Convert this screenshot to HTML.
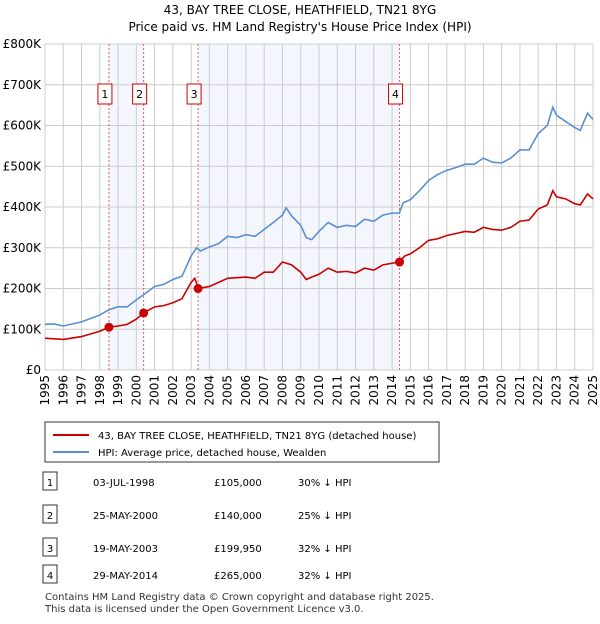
<!DOCTYPE html>
<html><head><meta charset="utf-8"><style>
body{margin:0;background:#fff;font-family:"DejaVu Sans",sans-serif;}
svg text{font-family:"DejaVu Sans",sans-serif;}
</style></head><body>
<svg width="600" height="620">
<text x="300" y="14" text-anchor="middle" font-size="12">43, BAY TREE CLOSE, HEATHFIELD, TN21 8YG</text>
<text x="300" y="31" text-anchor="middle" font-size="12">Price paid vs. HM Land Registry's House Price Index (HPI)</text>
<g id="plot"></g>
<g>
<rect x="45" y="422" width="394" height="40" fill="#fff" stroke="#333"/>
<line x1="53" y1="435" x2="89" y2="435" stroke="#cc0000" stroke-width="2"/>
<text x="98" y="439" font-size="10">43, BAY TREE CLOSE, HEATHFIELD, TN21 8YG (detached house)</text>
<line x1="53" y1="452" x2="89" y2="452" stroke="#5b8fd0" stroke-width="2"/>
<text x="98" y="456" font-size="10">HPI: Average price, detached house, Wealden</text>
</g>
<g id="table" font-size="10"></g>
<text x="45" y="600" font-size="10" fill="#333">Contains HM Land Registry data © Crown copyright and database right 2025.</text>
<text x="45" y="612" font-size="10" fill="#333">This data is licensed under the Open Government Licence v3.0.</text>
</svg>
<script>
const ns="http://www.w3.org/2000/svg";
const yTicks=[0,100,200,300,400,500,600,700,800];
const yLabels=["£0","£100K","£200K","£300K","£400K","£500K","£600K","£700K","£800K"];
const years=[1995,1996,1997,1998,1999,2000,2001,2002,2003,2004,2005,2006,2007,2008,2009,2010,2011,2012,2013,2014,2015,2016,2017,2018,2019,2020,2021,2022,2023,2024,2025];
const hpiT=[1995,1995.5,1996,1997,1998,1998.5,1999,1999.5,2000,2000.5,2001,2001.5,2002,2002.5,2003,2003.3,2003.5,2004,2004.5,2005,2005.5,2006,2006.5,2007,2007.5,2008,2008.2,2008.5,2009,2009.3,2009.6,2010,2010.5,2011,2011.5,2012,2012.5,2013,2013.5,2014,2014.4,2014.6,2015,2015.5,2016,2016.5,2017,2017.5,2018,2018.5,2019,2019.5,2020,2020.5,2021,2021.5,2022,2022.5,2022.8,2023,2023.5,2024,2024.3,2024.7,2025];
const hpiV=[112,113,108,118,135,148,155,155,172,188,205,210,222,230,280,300,292,302,310,328,325,332,328,345,362,380,398,378,355,325,320,340,362,350,355,352,370,365,380,385,385,410,418,440,465,480,490,497,505,505,520,510,508,520,540,540,580,600,645,625,610,595,588,630,615];
const priceT=[1995,1996,1997,1998,1998.5,1999,1999.5,2000,2000.4,2001,2001.5,2002,2002.5,2003,2003.2,2003.4,2004,2005,2006,2006.5,2007,2007.5,2008,2008.5,2009,2009.3,2009.6,2010,2010.5,2011,2011.5,2012,2012.5,2013,2013.5,2014,2014.4,2014.7,2015,2015.5,2016,2016.5,2017,2017.5,2018,2018.5,2019,2019.5,2020,2020.5,2021,2021.5,2022,2022.5,2022.8,2023,2023.5,2024,2024.3,2024.7,2025];
const priceV=[78,75,82,95,105,108,112,125,140,155,158,165,175,215,225,200,205,225,228,225,240,240,265,258,240,222,228,235,250,240,242,238,250,245,258,262,265,280,285,300,318,322,330,335,340,338,350,345,343,350,365,368,395,405,440,425,420,408,405,432,420];
const saleT=[1998.5,2000.4,2003.38,2014.41];
const saleV=[105,140,199.95,265];
const saleLabels=["1","2","3","4"];
const saleDates=["03-JUL-1998","25-MAY-2000","19-MAY-2003","29-MAY-2014"];
const salePrices=["£105,000","£140,000","£199,950","£265,000"];
const saleHpi=["30% ↓ HPI","25% ↓ HPI","32% ↓ HPI","32% ↓ HPI"];
const X0=45,X1=593,Y0=370,Y1=44;
const xs=t=>X0+(t-1995)/30*(X1-X0);
const ys=v=>Y0-v/800*(Y0-Y1);
const g=document.getElementById("plot");
function mk(tag,a,p){const e=document.createElementNS(ns,tag);for(const k in a)e.setAttribute(k,a[k]);(p||g).appendChild(e);return e;}
let e;
e=mk("rect",{x:xs(saleT[0]),y:Y1,width:xs(saleT[1])-xs(saleT[0]),height:Y0-Y1,fill:"#f3f6fd"});


e=mk("rect",{x:xs(saleT[2]),y:Y1,width:xs(saleT[3])-xs(saleT[2]),height:Y0-Y1,fill:"#f3f6fd"});


years.forEach((y,i)=>{
 e=mk("line",{x1:xs(y),x2:xs(y),y1:Y1,y2:Y0,stroke:"#ccc"});
 
 
 e=mk("text",{transform:`translate(${xs(y)+4},${Y0+5}) rotate(-90)`,"text-anchor":"end","font-size":"12"});
 e.textContent=y;
 
 
});
yTicks.forEach((v,i)=>{
 e=mk("line",{x1:X0,x2:X1,y1:ys(v),y2:ys(v),stroke:"#ccc"});
 
 
 e=mk("text",{x:X0-4,y:ys(v)+4,"text-anchor":"end","font-size":"12"});
 e.textContent=yLabels[i];
 
 
});
saleT.forEach((t,i)=>{
 e=mk("line",{x1:xs(t),x2:xs(t),y1:Y1,y2:Y0,stroke:"#e06060","stroke-dasharray":"2,2"});
 
 
 e=mk("rect",{x:xs(t)-11,y:84,width:14,height:20,fill:"#fff",stroke:"#cc0000"});
 
 
 e=mk("text",{x:xs(t)-4,y:98,"text-anchor":"middle","font-size":"11"});
 e.textContent=saleLabels[i];
 
 
});
e=mk("polyline",{points:hpiT.map((t,i)=>xs(t)+","+ys(hpiV[i])).join(" "),fill:"none",stroke:"#5b8fd0","stroke-width":"1.6"});


e=mk("polyline",{points:priceT.map((t,i)=>xs(t)+","+ys(priceV[i])).join(" "),fill:"none",stroke:"#cc0000","stroke-width":"1.6"});


saleT.forEach((t,i)=>{
 e=mk("circle",{cx:xs(t),cy:ys(saleV[i]),r:4.5,fill:"#cc0000"});
 
 
});
const tb=document.getElementById("table");
const rowY=[482,515,548,575];
saleLabels.forEach((l,i)=>{
 const y=rowY[i];
 e=mk("rect",{x:43,y:y-10,width:14,height:18,fill:"#fff",stroke:"#333"},tb);
 
 
 const cols=[[50,l,"middle"],[93,saleDates[i],"start"],[214,salePrices[i],"start"],[298,saleHpi[i],"start"]];
 cols.forEach(c=>{
  e=mk("text",{x:c[0],y:y+4,"text-anchor":c[2]},tb);
  e.textContent=c[1];
  
  
 });
});
</script>
</body></html>
